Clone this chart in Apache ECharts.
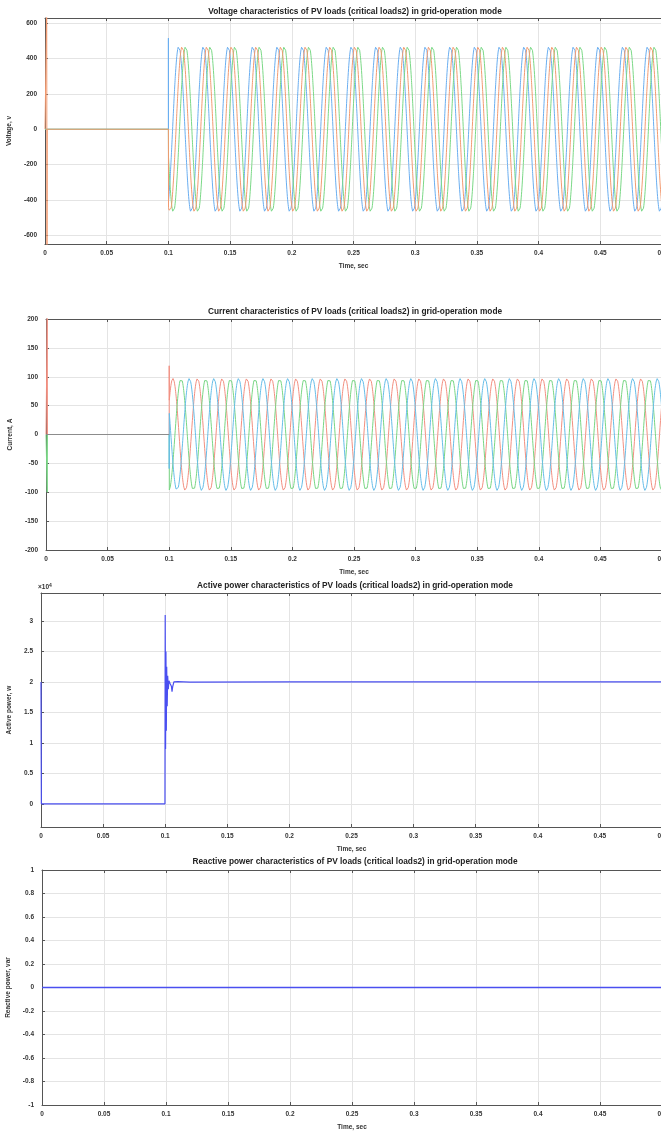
<!DOCTYPE html>
<html>
<head>
<meta charset="utf-8">
<script src="https://cdn.jsdelivr.net/npm/echarts@6/dist/echarts.min.js"></script>
<style>
  html, body { margin: 0; padding: 0; background: #fff; }
  #chart { width: 661px; height: 1131px; }
</style>
</head>
<body>
<div id="chart"></div>
<script>
// values
var timeTicks = [0, 0.05, 0.1, 0.15, 0.2, 0.25, 0.3, 0.35, 0.4, 0.45, 0.5];
var voltageTicks = [-600, -400, -200, 0, 200, 400, 600];
var currentTicks = [-200, -150, -100, -50, 0, 50, 100, 150, 200];
var activeTicks = [0, 5000, 10000, 15000, 20000, 25000, 30000];
var reactiveTicks = [-1, -0.8, -0.6, -0.4, -0.2, 0, 0.2, 0.4, 0.6, 0.8, 1];

var gridFreq = 50;           // Hz, ~25 px per cycle
var switchOnTime = 0.1;      // s, loads connected
var voltageAmp = 470;        // V peak
var voltagePeakTime = 0.1112; // s, first peak of middle phase
var voltagePhaseLag = [-0.0028, 0, 0.0028]; // s, offsets of the three traces
var voltageStartSpike = [516, 0, 0]; // V at t = 0.1
var currentAmp = 97;         // A peak
var currentPeakTime = 0.103; // s
var currentPhaseLag = [0, 0.00667, 0.01333];
var currentStartSpike = [119, 0, -59];

// initial glitches at the very left edge
var voltageGlitchT = [0, 0.0012, 0.0014, 0.0016, 0.0018];
var voltageGlitchV = [0, 0, 700, -700, 0];
var currentGlitchT = [[0, 0.0008, 0.001, 0.0012], [0, 0.0008, 0.001, 0.0012], []];
var currentGlitchV = [[0, 0, 210, 0], [0, 0, -100, 0], []];
var currentIdleTime = [0, 0.1];
var currentIdleValue = [0, 0];

var activeTime = [0, 0.0003, 0.0998, 0.1, 0.1003, 0.1006, 0.1009, 0.1012, 0.1016, 0.102, 0.1025,
  0.103, 0.104, 0.105, 0.1055, 0.106, 0.107, 0.108, 0.11, 0.12, 0.2, 0.3, 0.4, 0.5];
var activeValue = [20000, 0, 0, 31000, 9000, 25000, 12000, 22500, 16000, 21000, 18800,
  20200, 19700, 19300, 18400, 19200, 20000, 20000, 20050, 19980, 20000, 20000, 20000, 20000];
var reactiveTime = [0, 0.1, 0.2, 0.3, 0.4, 0.5];
var reactiveValue = [0, 0, 0, 0, 0, 0];

var voltageColors = ['#6aaef0', '#f29a70', '#7ad886'];
var currentWaveColors = ['#f28f80', '#78d684', '#66bde8'];

var fontFamily = 'Liberation Sans, Arial, sans-serif';

function buildWave(amp, peakTime, lag, spike, glitchT, glitchV) {
    var pts = [];
    for (var i = 0; i < glitchT.length; i++) pts.push([glitchT[i], glitchV[i]]);
    if (!pts.length) pts.push([0, 0]);
    pts.push([switchOnTime, 0]);
    if (spike) pts.push([switchOnTime, spike]);
    var w = 2 * Math.PI * gridFreq;
    for (var t = switchOnTime + 0.0001; t <= 0.5 + 1e-9; t += 0.0001) {
        pts.push([t, amp * Math.cos(w * (t - peakTime - lag))]);
    }
    return pts;
}

var voltageSeries = voltagePhaseLag.map(function (lag, k) {
    var gt = k === 1 ? voltageGlitchT : [];
    var gv = k === 1 ? voltageGlitchV : [];
    return {
        type: 'line', xAxisIndex: 0, yAxisIndex: 0, showSymbol: false, animation: false,
        lineStyle: { width: 1, color: voltageColors[k] }, z: k === 1 ? 4 : 3,
        data: buildWave(voltageAmp, voltagePeakTime, lag, voltageStartSpike[k], gt, gv)
    };
});
var currentSeries = currentPhaseLag.map(function (lag, k) {
    return {
        type: 'line', xAxisIndex: 2, yAxisIndex: 1, showSymbol: false, animation: false,
        lineStyle: { width: 1, color: currentWaveColors[k] },
        data: buildWave(currentAmp, currentPeakTime, lag, currentStartSpike[k], currentGlitchT[k], currentGlitchV[k])
    };
});

function pairs(xs, ys) {
    return xs.map(function (x, i) { return [x, ys[i]]; });
}

var labelStyle = { fontSize: 6.5, color: '#333', fontWeight: 'bold', fontFamily: fontFamily };
var axisLineStyle = { color: '#555', width: 1 };
var splitStyle = { color: '#e4e4e4', width: 1 };

function bottomX(grid, withName) {
    return {
        type: 'value', gridIndex: grid, min: 0, max: 0.5, interval: 0.05,
        position: 'bottom',
        name: withName ? 'Time, sec' : '', nameLocation: 'middle', nameGap: 19,
        nameTextStyle: { fontSize: 6.5, color: '#333', fontWeight: 'bold', fontFamily: fontFamily },
        axisLine: { show: true, onZero: false, lineStyle: axisLineStyle },
        axisTick: { show: true, inside: true, length: 3, lineStyle: axisLineStyle },
        axisLabel: Object.assign({ margin: 6, showMaxLabel: true, formatter: function (v) { return +v.toFixed(2) + ''; } }, labelStyle),
        splitLine: { show: true, lineStyle: splitStyle }
    };
}
function topX(grid) {
    return {
        type: 'value', gridIndex: grid, min: 0, max: 0.5, interval: 0.05, position: 'top',
        axisLine: { show: true, onZero: false, lineStyle: axisLineStyle },
        axisTick: { show: true, inside: true, length: 3, lineStyle: axisLineStyle },
        axisLabel: { show: false }, splitLine: { show: false }
    };
}
function leftY(grid, name, gap, min, max, ticks, fmt) {
    return {
        type: 'value', gridIndex: grid, min: min, max: max,
        name: name, nameLocation: 'middle', nameGap: gap,
        nameTextStyle: { fontSize: 6.5, color: '#333', fontWeight: 'bold', fontFamily: fontFamily },
        axisLine: { show: true, onZero: false, lineStyle: axisLineStyle },
        axisTick: { show: true, inside: true, length: 3, lineStyle: axisLineStyle, customValues: ticks },
        axisLabel: Object.assign({ margin: 8, customValues: ticks, formatter: fmt || function (v) { return +v.toFixed(2) + ''; } }, labelStyle),
        splitLine: { show: true, lineStyle: splitStyle }
    };
}

var titles = [
    ['Voltage characteristics of PV loads (critical loads2) in grid-operation mode', 8],
    ['Current characteristics of PV loads (critical loads2) in grid-operation mode', 308],
    ['Active power characteristics of PV loads (critical loads2) in grid-operation mode', 582],
    ['Reactive power characteristics of PV loads (critical loads2) in grid-operation mode', 858]
];

var chart = echarts.init(document.getElementById('chart'));
chart.setOption({
    backgroundColor: '#fff',
    animation: false,
    grid: [
        { left: 45, top: 18, width: 617, height: 226, outerBoundsMode: 'none', containLabel: false },
        { left: 46, top: 319, width: 616, height: 231, outerBoundsMode: 'none', containLabel: false },
        { left: 41, top: 593, width: 621, height: 234, outerBoundsMode: 'none', containLabel: false },
        { left: 42, top: 870, width: 620, height: 235, outerBoundsMode: 'none', containLabel: false }
    ],
    xAxis: [
        bottomX(0, true), topX(0),
        bottomX(1, true), topX(1),
        bottomX(2, true), topX(2),
        bottomX(3, true), topX(3)
    ],
    yAxis: [
        leftY(0, 'Voltage, v', 28, -650, 630, voltageTicks),
        leftY(1, 'Current, A', 29, -200, 200, currentTicks),
        leftY(2, 'Active power, w', 24, -3800, 34600, activeTicks, function (v) { return +(v / 10000).toFixed(1) + ''; }),
        leftY(3, 'Reactive power, var', 25, -1, 1, reactiveTicks)
    ],
    graphic: titles.map(function (t) {
        return {
            type: 'text', x: 355, y: t[1],
            style: { text: t[0], fontSize: 8.3, fontWeight: 'bold', fill: '#222', fontFamily: fontFamily, align: 'center', verticalAlign: 'top' }
        };
    }).concat([{
        type: 'text', x: 38, y: 583,
        style: {
            text: '×10{s|4}', fontSize: 6.5, fill: '#333', fontWeight: 'bold', fontFamily: fontFamily, verticalAlign: 'top',
            rich: { s: { fontSize: 5, verticalAlign: 'top', fontWeight: 'bold', fill: '#333', padding: [0, 0, 3, 0] } }
        }
    }]),
    series: voltageSeries.concat(currentSeries).concat([
        {
            type: 'line', xAxisIndex: 2, yAxisIndex: 1, showSymbol: false, animation: false, z: 5,
            lineStyle: { width: 1, color: '#8c8c8c' }, data: pairs(currentIdleTime, currentIdleValue)
        },
        {
            type: 'line', xAxisIndex: 4, yAxisIndex: 2, showSymbol: false, animation: false, z: 10,
            lineStyle: { width: 1.2, color: '#4a4ff0' }, data: pairs(activeTime, activeValue)
        },
        {
            type: 'line', xAxisIndex: 6, yAxisIndex: 3, showSymbol: false, animation: false, z: 10,
            lineStyle: { width: 1.3, color: '#4a4ff0' }, data: pairs(reactiveTime, reactiveValue)
        }
    ])
});
</script>
</body>
</html>
